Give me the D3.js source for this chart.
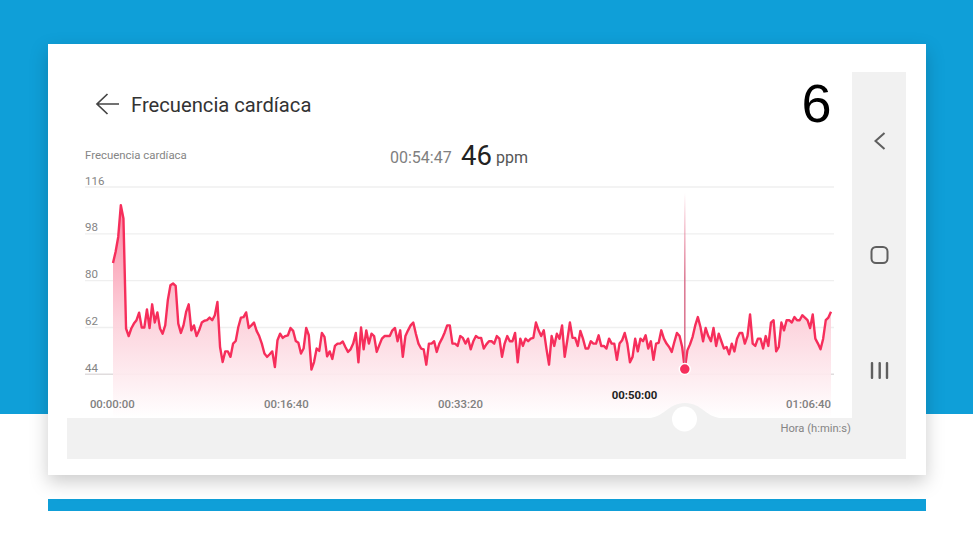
<!DOCTYPE html>
<html>
<head>
<meta charset="utf-8">
<script src="https://cdnjs.cloudflare.com/ajax/libs/d3/7.8.5/d3.min.js"></script>
<style>
  html, body { margin: 0; padding: 0; background: #fff; overflow: hidden; }
  svg { display: block; font-family: Roboto, "Noto Sans", sans-serif; }
  .axis path, .axis line { display: none; }
</style>
</head>
<body>
<div id="chart"></div>
<script>
// heart rate samples, one every 15 seconds
const bpm = [
  86.8, 91.1, 96.8, 109, 103.9, 61.6, 58.7, 61.6, 63.5, 64.8, 67.7, 62, 62, 68.9, 61.8, 70.9, 63.9, 67.8, 61.6, 59.6,
  62.8, 72.5, 78.2, 78.9, 78, 63.5, 59.9, 62.8, 68, 70.9, 60.9, 62.8, 58.7, 60.9, 63.9, 64.6, 64.8, 65.8, 64.8, 66.7,
  71.8, 54.5, 48.7, 52.8, 52.8, 50.7, 55.8, 56.8, 62.2, 65.8, 66, 67.8, 61.8, 62.8, 63.9, 60.7, 58.7, 55.8, 52, 50.7,
  51.7, 52.8, 46.8, 57.1, 59.6, 58, 58.7, 59, 61.8, 60.7, 56.8, 56.1, 52, 53.9, 61.8, 59, 45.8, 48.7, 53.9, 53,
  59.9, 58.4, 50.9, 52.8, 49.9, 54.9, 55.8,
  55.8, 56.6, 54.5, 52.6, 53.6, 55.8, 59.9, 48.6, 62, 53.6, 60.9, 55.8, 59.6, 58.7, 52.6, 55.2, 57.7, 58.7, 58.7, 58.7,
  60.9, 61.8, 56.7, 60.9, 50.7, 58.7, 60.9, 62.8, 63.9, 59.6, 55.8, 53.9, 53.6, 47.7, 55.8, 55.8, 56.7, 52.6, 55.8, 57.7,
  60, 62.8, 62.8, 55.8, 55.8, 54.9, 58.7, 58, 55.8, 57.7, 53.6, 56.7, 58.7, 58, 58, 53.9, 55.5, 56.7, 56.7, 55.8,
  58.7, 57.7, 50.7, 55.8, 58.7, 56.7, 56.7, 59.9, 48.6, 57.7, 54.9, 57.7, 56.7, 57.7, 58, 63.9, 60.9, 58.7, 60.9, 53.9,
  47.7, 58.7, 54.9, 59.6, 57.7, 62.8, 50.7, 57.1, 63.9, 58, 58, 54.9, 60.7, 57.7, 53.9, 53.9,
  56.7, 55.8, 55.8, 59, 54.9, 54.9, 53.9, 57.7, 55.8, 55.8, 49.6, 55.8, 57.1, 59.9, 55.8, 48.6, 50.7, 57.7, 52.8, 57.7,
  56.7, 59, 53.9, 56.7, 49.6, 55.8, 56.1, 60.9, 57.7, 55.8, 54.5, 52.6, 56.4, 59.9, 58.7, 54.5, 46, 53.2, 55.5, 58.4,
  62.8, 66, 62.2, 56.7, 61.8, 58.7, 56.7, 61.8, 54.9, 59.6, 56.7, 53.9, 54.5, 51.7, 55.8, 52.8, 57.7, 59.9, 59.9, 55.8,
  58.7, 67, 55.8, 54.9, 57.7, 57.7, 53.9, 58.7, 54.9, 63.9, 64.8, 52.8, 54.5, 63.9, 60.9, 64.8, 64.8, 63.9, 66, 64.8,
  64.8, 66.7, 65.8, 64.8, 61.8, 67, 57.7, 55.8, 53.6, 57.7, 64.8, 65.8, 68
];
const stepSeconds = 15;
const yTicks = [44, 62, 80, 98, 116];
const xTicks = [0, 1000, 2000, 3000, 4000];
const selectedSeconds = 3285;
const selectedValue = 46;
const selectedTick = 3000;

const width = 973, height = 548;
const plotBottom = 418;

const svg = d3.select("#chart").append("svg")
    .attr("width", width)
    .attr("height", height)
    .attr("viewBox", [0, 0, width, height]);

const defs = svg.append("defs");

const areaGrad = defs.append("linearGradient")
    .attr("id", "areaFill")
    .attr("gradientUnits", "userSpaceOnUse")
    .attr("x1", 0).attr("x2", 0).attr("y1", 205).attr("y2", plotBottom);
areaGrad.append("stop").attr("offset", "0").attr("stop-color", "#fb7f9c");
areaGrad.append("stop").attr("offset", "0.55").attr("stop-color", "#fcd0da");
areaGrad.append("stop").attr("offset", "1").attr("stop-color", "#ffffff");

const cursorGrad = defs.append("linearGradient")
    .attr("id", "cursorFill")
    .attr("x1", 0).attr("x2", 0).attr("y1", 0).attr("y2", 1);
cursorGrad.append("stop").attr("offset", "0").attr("stop-color", "#e8597c").attr("stop-opacity", 0);
cursorGrad.append("stop").attr("offset", "0.5").attr("stop-color", "#d9708c").attr("stop-opacity", 0.9);
cursorGrad.append("stop").attr("offset", "1").attr("stop-color", "#d9708c");

// page background
svg.append("rect").attr("width", width).attr("height", 414).attr("fill", "#0f9fd8");
svg.append("rect").attr("x", 48).attr("y", 499).attr("width", 878).attr("height", 12).attr("fill", "#0f9fd8");
svg.append("rect").attr("x", 48).attr("y", 44).attr("width", 878).attr("height", 431)
    .attr("fill", "#fff")
    .style("filter", "drop-shadow(0 7px 9px rgba(0,0,0,0.2))");

// phone navigation bars
svg.append("rect").attr("x", 852).attr("y", 72).attr("width", 54).attr("height", 387).attr("fill", "#f1f1f1");
svg.append("rect").attr("x", 67).attr("y", plotBottom).attr("width", 785).attr("height", 41).attr("fill", "#f1f1f1");

const x = d3.scaleLinear().domain([0, 4125]).range([113, 831]);
const y = d3.scaleLinear().domain([44, 116]).range([374.3, 187]);

// grid
svg.append("g").selectAll("line")
    .data(yTicks)
    .join("line")
    .attr("x1", 85).attr("x2", 834)
    .attr("y1", d => y(d)).attr("y2", d => y(d))
    .attr("stroke", d => d === 44 ? "#e0dcdd" : "#efefef")
    .attr("stroke-width", 1.4);

const area = d3.area()
    .x((d, i) => x(i * stepSeconds))
    .y0(plotBottom)
    .y1(d => y(d));

const line = d3.line()
    .x((d, i) => x(i * stepSeconds))
    .y(d => y(d));

svg.append("path").datum(bpm)
    .attr("d", area)
    .attr("fill", "url(#areaFill)")
    .attr("fill-opacity", 0.92);

svg.append("path").datum(bpm)
    .attr("d", line)
    .attr("fill", "none")
    .attr("stroke", "#f62e5b")
    .attr("stroke-width", 2.4)
    .attr("stroke-linejoin", "round");

// y axis, labels sit above their grid lines
const yAxis = svg.append("g")
    .attr("class", "axis")
    .attr("transform", "translate(85,0)")
    .call(d3.axisRight(y).tickValues(yTicks).tickSize(0).tickPadding(0));
yAxis.selectAll("text")
    .attr("dy", "-3px")
    .attr("fill", "#858585")
    .attr("font-size", 11.5)
    .attr("font-family", "Roboto, sans-serif");

function clock(s) {
    const p = n => String(n).padStart(2, "0");
    return p(Math.floor(s / 3600)) + ":" + p(Math.floor(s / 60) % 60) + ":" + p(s % 60);
}

// x axis
const xAxis = svg.append("g")
    .attr("class", "axis")
    .attr("transform", "translate(-1.2,404)")
    .call(d3.axisBottom(x).tickValues(xTicks).tickFormat(clock).tickSize(0).tickPadding(0));
xAxis.selectAll("text")
    .attr("y", 0)
    .attr("dy", 4)
    .attr("font-size", 11.4)
    .attr("font-family", "Roboto, sans-serif")
    .attr("fill", d => d === selectedTick ? "#222" : "#808080")
    .attr("font-weight", d => d === selectedTick ? 700 : 500)
    .attr("transform", d => d === selectedTick ? "translate(0,-9)" : null);

// slider bump and knob
svg.append("path")
    .attr("d", "M645,418.5 C665,418.5 667,403 685,403 C703,403 705,418.5 725,418.5 Z")
    .attr("fill", "#f1f1f1");
svg.append("circle").attr("cx", 684.5).attr("cy", 419).attr("r", 12.5).attr("fill", "#fff");

// cursor
svg.append("rect")
    .attr("x", x(selectedSeconds) - 0.8)
    .attr("y", 193)
    .attr("width", 1.6)
    .attr("height", y(selectedValue) - 193 - 6)
    .attr("fill", "url(#cursorFill)");
svg.append("circle")
    .attr("cx", x(selectedSeconds))
    .attr("cy", y(selectedValue))
    .attr("r", 5.5)
    .attr("fill", "#f62e5b")
    .attr("stroke", "#fff")
    .attr("stroke-width", 1.5);

// header
svg.append("path")
    .attr("d", "M119,104 H97.5 M107.5,94 L97,104 L107.5,114")
    .attr("fill", "none").attr("stroke", "#444").attr("stroke-width", 1.7);
svg.append("text").attr("x", 131).attr("y", 112).text("Frecuencia cardíaca")
    .attr("font-size", 20.2).attr("fill", "#333");
svg.append("text").attr("x", 801.5).attr("y", 122).text("6")
    .attr("font-family", "'Liberation Sans', Arial, sans-serif")
    .attr("font-size", 54).attr("fill", "#000");
svg.append("text").attr("x", 85).attr("y", 159).text("Frecuencia cardíaca")
    .attr("font-size", 11.4).attr("fill", "#858585");
svg.append("text").attr("x", 390).attr("y", 163).text("00:54:47")
    .attr("font-size", 16).attr("fill", "#808080");
svg.append("text").attr("x", 461).attr("y", 165).text(selectedValue)
    .attr("font-size", 27.5).attr("fill", "#222");
svg.append("text").attr("x", 496).attr("y", 163).text("ppm")
    .attr("font-size", 16).attr("fill", "#555");
svg.append("text").attr("x", 851).attr("y", 432).attr("text-anchor", "end").text("Hora (h:min:s)")
    .attr("font-size", 11.2).attr("fill", "#858585");

// navigation icons
svg.append("path")
    .attr("d", "M884.5,133 L875.5,141 L884.5,149")
    .attr("fill", "none").attr("stroke", "#5f5f5f").attr("stroke-width", 2);
svg.append("rect").attr("x", 871.5).attr("y", 247).attr("width", 16).attr("height", 16).attr("rx", 4.5)
    .attr("fill", "none").attr("stroke", "#5f5f5f").attr("stroke-width", 2);
svg.append("g").selectAll("rect")
    .data([872, 879.7, 887])
    .join("rect")
    .attr("x", d => d - 1.2).attr("y", 362).attr("width", 2.4).attr("height", 17).attr("rx", 1)
    .attr("fill", "#5f5f5f");
</script>
</body>
</html>
